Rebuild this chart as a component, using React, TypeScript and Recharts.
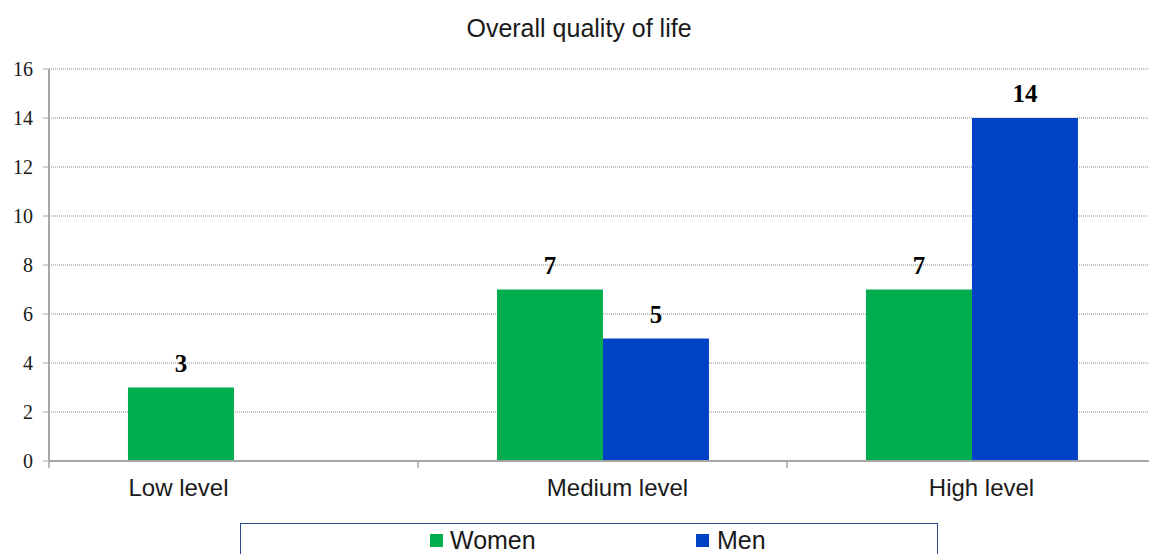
import React from "react";
import { BarChart, Bar, XAxis, YAxis, CartesianGrid, Legend, LabelList } from "recharts";

const levels = ["Low level", "Medium level", "High level"];
const women = [3, 7, 7];
const men = [0, 5, 14];
const yTicks = [0, 2, 4, 6, 8, 10, 12, 14, 16];

const GREEN = "#00ae50";
const BLUE = "#0042c6";
const AXIS_GREY = "#a6a6a6";
const SANS = "'Liberation Sans', Arial, sans-serif";
const SERIF = "'Liberation Serif', 'Times New Roman', serif";

const CHART_W = 1156;
const CHART_H = 554;
const Y_AXIS_W = 49;
// small per-label horizontal nudges for the category captions
const labelNudge = [-55, 15, 10];

const data = levels.map((level, i) => ({ level, women: women[i], men: men[i] }));

function LevelTick(props: any) {
  const { x, y, payload, index } = props;
  const band = (CHART_W - Y_AXIS_W) / levels.length;
  const edge = x - band / 2;
  return (
    <g>
      <line x1={edge} x2={edge} y1={y} y2={y + 7} stroke={AXIS_GREY} strokeWidth={1.5} />
      <text
        x={x + (labelNudge[index] ?? 0)}
        y={y + 35}
        textAnchor="middle"
        fontFamily={SANS}
        fontSize={24}
        fill="#1a1a1a"
      >
        {payload.value}
      </text>
    </g>
  );
}

function LegendBox() {
  const text: React.CSSProperties = {
    position: "absolute",
    top: 4,
    fontFamily: SANS,
    fontSize: 25,
    lineHeight: "25px",
    color: "#1a1a1a",
  };
  const swatch: React.CSSProperties = { position: "absolute", top: 10, width: 13, height: 13 };
  return (
    <div
      style={{
        position: "relative",
        marginTop: 6,
        width: 698,
        height: 45,
        boxSizing: "border-box",
        border: "1px solid #2a4a8a",
        background: "#fff",
      }}
    >
      <div style={{ ...swatch, left: 189, background: GREEN }} />
      <span style={{ ...text, left: 209 }}>Women</span>
      <div style={{ ...swatch, left: 455, background: BLUE }} />
      <span style={{ ...text, left: 476 }}>Men</span>
    </div>
  );
}

const valueLabelStyle = { fontFamily: SERIF, fontSize: 25, fontWeight: "bold", fill: "#000" };

export default function App() {
  return (
    <div
      style={{
        position: "absolute",
        left: 0,
        top: 0,
        width: 1149,
        height: 554,
        overflow: "hidden",
        background: "#fff",
      }}
    >
      <div
        style={{
          position: "absolute",
          left: 0,
          top: 14,
          width: 1158,
          textAlign: "center",
          fontFamily: SANS,
          fontSize: 25,
          color: "#1a1a1a",
        }}
      >
        Overall quality of life
      </div>
      <BarChart
        width={CHART_W}
        height={CHART_H}
        data={data}
        margin={{ top: 69, right: 0, bottom: 0, left: 0 }}
        barCategoryGap="21.4%"
        barGap={0}
      >
        <CartesianGrid vertical={false} stroke="#8a8a8a" strokeDasharray="1 1" />
        <XAxis
          dataKey="level"
          height={56}
          axisLine={{ stroke: AXIS_GREY, strokeWidth: 2 }}
          tickLine={false}
          tickSize={0}
          tickMargin={0}
          interval={0}
          tick={<LevelTick />}
        />
        <YAxis
          width={Y_AXIS_W}
          domain={[0, 16]}
          ticks={yTicks}
          interval={0}
          axisLine={{ stroke: AXIS_GREY, strokeWidth: 2 }}
          tickLine={{ stroke: AXIS_GREY }}
          tickSize={6}
          tickMargin={10}
          tick={{ fontFamily: SERIF, fontSize: 20, fill: "#1a1a1a" }}
        />
        <Legend
          verticalAlign="bottom"
          height={37}
          wrapperStyle={{ left: 240, width: 698, height: 37 }}
          content={() => <LegendBox />}
        />
        <Bar dataKey="women" name="Women" fill={GREEN} isAnimationActive={false}>
          <LabelList
            dataKey="women"
            position="top"
            offset={16}
            formatter={(v: any) => (v ? v : "")}
            style={valueLabelStyle}
          />
        </Bar>
        <Bar dataKey="men" name="Men" fill={BLUE} isAnimationActive={false}>
          <LabelList
            dataKey="men"
            position="top"
            offset={16}
            formatter={(v: any) => (v ? v : "")}
            style={valueLabelStyle}
          />
        </Bar>
      </BarChart>
    </div>
  );
}
